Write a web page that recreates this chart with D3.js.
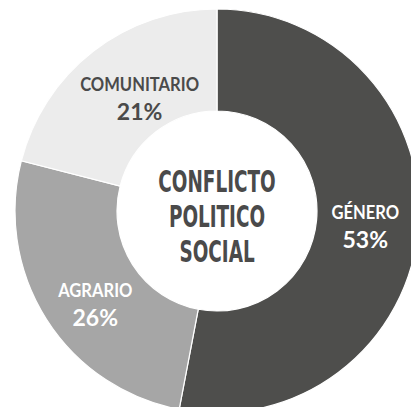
<!DOCTYPE html>
<html>
<head>
<meta charset="utf-8">
<script src="https://cdn.jsdelivr.net/npm/d3@7/dist/d3.min.js"></script>
<style>
  html, body { margin: 0; padding: 0; background: #ffffff; overflow: hidden; }
  svg { display: block; }
</style>
</head>
<body>
<svg id="chart" width="411" height="407"></svg>
<script>
// Conflicto político social: share of cases by type
const categories = ["GÉNERO", "AGRARIO", "COMUNITARIO"];
const shares = [53, 26, 21];
const sliceColors = ["#4e4e4c", "#a6a6a6", "#ececec"];
const labelColors = ["#ffffff", "#ffffff", "#4a4a4a"];
const centerTitle = ["CONFLICTO", "POLITICO", "SOCIAL"];

const svg = d3.select("#chart");
const cx = 217, cy = 211;
const outerR = 202, innerR = 100;

const data = categories.map((c, i) => ({ name: c, value: shares[i], color: sliceColors[i], text: labelColors[i] }));

const pie = d3.pie().value(d => d.value).sort(null);
const arc = d3.arc().innerRadius(innerR).outerRadius(outerR);

const g = svg.append("g").attr("transform", `translate(${cx},${cy})`);

const arcs = pie(data);

g.selectAll("path.slice")
  .data(arcs)
  .join("path")
  .attr("class", "slice")
  .attr("d", arc)
  .attr("fill", d => d.data.color)
  .attr("stroke", "#ffffff")
  .attr("stroke-width", 1.2);

// label placement: radius and angular nudge per slice
const labelTweak = {
  "GÉNERO": { r: 149, da: 0.4 },
  "AGRARIO": { r: 153, da: -4.9 },
  "COMUNITARIO": { r: 137, da: 3.4 }
};

const labels = g.selectAll("g.label")
  .data(arcs)
  .join("g")
  .attr("class", "label")
  .attr("transform", d => {
    const t = labelTweak[d.data.name];
    const a = (d.startAngle + d.endAngle) / 2 + t.da * Math.PI / 180;
    return `translate(${t.r * Math.sin(a)},${-t.r * Math.cos(a)})`;
  });

labels.append("text")
  .attr("text-anchor", "middle")
  .attr("y", -7)
  .style("font-family", "Lato, 'Noto Sans', sans-serif")
  .style("font-weight", 700)
  .style("font-size", "18px")
  .attr("fill", d => d.data.text)
  .text(d => d.data.name)
  .each(function() {
    // keep the geometric, slightly tight look
    const w = this.getComputedTextLength();
    d3.select(this).attr("textLength", w * 0.92).attr("lengthAdjust", "spacingAndGlyphs");
  });

labels.append("text")
  .attr("text-anchor", "middle")
  .attr("y", 22)
  .style("font-family", "Lato, 'Noto Sans', sans-serif")
  .style("font-weight", 700)
  .style("font-size", "23px")
  .attr("fill", d => d.data.text)
  .text(d => d.data.value + "%");

// condensed title inside the hole
const title = g.append("g").attr("transform", "scale(0.66,1)");
title.selectAll("text")
  .data(centerTitle)
  .join("text")
  .attr("text-anchor", "middle")
  .attr("x", 0)
  .attr("y", (d, i) => -19 + i * 35)
  .style("font-family", "'Liberation Sans Narrow', 'DejaVu Sans Condensed', sans-serif")
  .style("font-weight", 700)
  .style("font-size", "31px")
  .attr("fill", "#4a4a4a")
  .text(d => d);
</script>
</body>
</html>
